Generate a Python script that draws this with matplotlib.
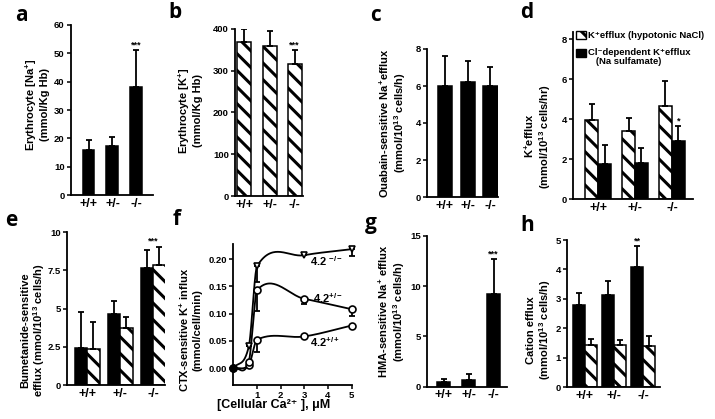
import numpy as np
import matplotlib
matplotlib.use('Agg')
import matplotlib.pyplot as plt
from matplotlib.patches import Rectangle

W, H = 715, 419
plt.rcParams['font.family'] = ['Liberation Sans', 'DejaVu Sans']
plt.rcParams['font.weight'] = 'bold'
plt.rcParams['hatch.linewidth'] = 2.2
plt.rcParams['hatch.color'] = 'black'
plt.rcParams['mathtext.fontset'] = 'custom'
plt.rcParams['mathtext.rm'] = 'Liberation Sans:bold'
plt.rcParams['mathtext.bf'] = 'Liberation Sans:bold'
plt.rcParams['mathtext.it'] = 'Liberation Sans:bold'
plt.rcParams['mathtext.default'] = 'rm'

# ---------------- data ----------------
genotypes = ['+/+', '+/-', '-/-']

# a: erythrocyte Na content
na_content = [16.0, 17.3, 38.0]
na_content_err = [3.3, 3.2, 13.0]
# b: erythrocyte K content
k_content = [370, 360, 316]
k_content_err = [30, 35, 34]
# c: ouabain-sensitive Na efflux
ouabain_na = [6.0, 6.2, 6.0]
ouabain_na_err = [1.6, 1.15, 1.05]
# d: K efflux
k_efflux_hypo = [3.95, 3.4, 4.65]
k_efflux_hypo_err = [0.8, 0.65, 1.25]
cl_dep_k_efflux = [1.75, 1.8, 2.9]
cl_dep_k_efflux_err = [0.95, 0.75, 0.75]
legend_d = ['K⁺efflux (hypotonic NaCl)', 'Cl⁻dependent K⁺efflux\n   (Na sulfamate)']
# e: bumetanide-sensitive efflux
bumet_solid = [2.45, 4.65, 7.65]
bumet_solid_err = [2.35, 0.85, 1.15]
bumet_hatch = [2.35, 3.75, 7.85]
bumet_hatch_err = [1.75, 0.7, 1.2]
# f: CTX-sensitive K influx vs cellular Ca
ca_um = [0, 0.65, 1, 3, 5]
ctx_ko = [0.0, 0.04, 0.187, 0.207, 0.218]
ctx_ko_err = [0, 0, 0.03, 0, 0.012]
ctx_het = [0.0, 0.012, 0.143, 0.127, 0.108]
ctx_het_err = [0, 0, 0.038, 0.01, 0.013]
ctx_wt = [0.0, 0.006, 0.052, 0.058, 0.078]
ctx_wt_err = [0, 0, 0.022, 0, 0]
# g: HMA-sensitive Na efflux
hma_na = [0.45, 0.7, 9.2]
hma_na_err = [0.3, 0.55, 3.5]
# h: cation efflux
cation_solid = [2.8, 3.15, 4.1]
cation_solid_err = [0.4, 0.45, 0.7]
cation_hatch = [1.45, 1.42, 1.4]
cation_hatch_err = [0.2, 0.18, 0.35]

HATCH = '\\\\'
fig = plt.figure(figsize=(W / 100, H / 100), dpi=100)


def fx(px):
    return px / W


def fy(py):
    return 1 - py / H


def make_ax(left, top, right, bottom):
    return fig.add_axes([left / W, 1 - bottom / H, (right - left) / W, (bottom - top) / H])


def style(ax):
    for s in ['top', 'right']:
        ax.spines[s].set_visible(False)
    for s in ['left', 'bottom']:
        ax.spines[s].set_linewidth(1.3)
    ax.tick_params(axis='y', length=3, width=1.1, labelsize=6.8, pad=1.5)
    ax.tick_params(axis='x', length=0, labelsize=9, pad=2)


def bars(ax, x, vals, errs, width, hatched):
    x = np.asarray(x, float)
    if hatched:
        ax.bar(x, vals, width, color='white', edgecolor='black', hatch=HATCH, linewidth=1.1)
    else:
        ax.bar(x, vals, width, color='black', edgecolor='black', linewidth=1.1)
    ax.errorbar(x, vals, yerr=[np.zeros(len(vals)), errs], fmt='none', ecolor='black',
                elinewidth=1.3, capsize=2.3, capthick=1.3)


def stars(ax, x, val, err, s):
    ax.annotate(s, xy=(x, val + err), xytext=(0, 0.5), textcoords='offset points',
                ha='center', va='bottom', fontsize=6.5, fontweight='bold')


def ylab(ax, text, left, right_px, yfrac, width):
    ax.set_ylabel(text, fontsize=8, fontweight='bold', linespacing=1.1)
    ax.yaxis.set_label_coords((right_px - left) / width, yfrac)


def letter(ch, x, y):
    fig.text(x / W, 1 - y / H, ch, fontsize=15, fontweight='bold',
             family=['Open Sans', 'DejaVu Sans'], va='baseline', ha='left')


xg = np.arange(3)

# ---- a ----
ax = make_ax(71, 25, 153, 195)
style(ax)
bars(ax, xg, na_content, na_content_err, 0.5, False)
ax.set_xlim(-0.73, 2.69); ax.set_ylim(0, 60)
ax.set_yticks(np.arange(0, 61, 10))
ax.set_xticks(xg); ax.set_xticklabels(genotypes)
stars(ax, xg[2], na_content[2], na_content_err[2], '***')
ylab(ax, 'Erythrocyte [Na$^{+}$]\n(mmol/Kg Hb)', 71, 50, 0.53, 82)

# ---- b ----
ax = make_ax(235, 29, 303, 196)
style(ax)
bars(ax, xg, k_content, k_content_err, 0.56, True)
ax.set_xlim(-0.38, 2.34); ax.set_ylim(0, 400)
ax.set_yticks(np.arange(0, 401, 100))
ax.set_xticks(xg); ax.set_xticklabels(genotypes)
stars(ax, xg[2], k_content[2], k_content_err[2], '***')
ylab(ax, 'Erythrocyte [K$^{+}$]\n(mmol/Kg Hb)', 235, 203, 0.51, 68)

# ---- c ----
ax = make_ax(427, 49, 498, 197)
style(ax)
bars(ax, xg, ouabain_na, ouabain_na_err, 0.62, False)
ax.set_xlim(-0.79, 2.33); ax.set_ylim(0, 8)
ax.set_yticks(np.arange(0, 9, 2))
ax.set_xticks(xg); ax.set_xticklabels(genotypes)
ylab(ax, 'Ouabain-sensitive Na$^{+}$efflux\n(mmol/10$^{13}$ cells/h)', 427, 408, 0.5, 71)

# ---- d ----
ax = make_ax(573, 31.5, 693, 199)
style(ax)
w = 0.35
bars(ax, xg - w / 2, k_efflux_hypo, k_efflux_hypo_err, w, True)
bars(ax, xg + w / 2, cl_dep_k_efflux, cl_dep_k_efflux_err, w, False)
ax.set_xlim(-0.68, 2.57); ax.set_ylim(0, 8.38)
ax.set_yticks(np.arange(0, 9, 2))
ax.set_xticks(xg); ax.set_xticklabels(genotypes)
stars(ax, xg[2] + w / 2, cl_dep_k_efflux[2], cl_dep_k_efflux_err[2], '*')
ylab(ax, 'K$^{+}$efflux\n(mmol/10$^{13}$ cells/hr)', 573, 553, 0.376, 120)
# legend drawn as key boxes + labels
fig.add_artist(Rectangle((fx(576), fy(39)), 10 / W, 7.5 / H, transform=fig.transFigure,
                         facecolor='white', edgecolor='black', hatch=HATCH, linewidth=1.0))
fig.add_artist(Rectangle((fx(576), fy(57)), 10 / W, 8 / H, transform=fig.transFigure,
                         facecolor='black', edgecolor='black', linewidth=1.0))
fig.text(fx(588), fy(36), legend_d[0], fontsize=6.8, fontweight='bold', va='center', ha='left')
fig.text(fx(588), fy(48), legend_d[1], fontsize=6.8, fontweight='bold', va='top', ha='left',
         linespacing=1.0)

# ---- e ----
ax = make_ax(67, 232, 165, 385)
style(ax)
w = 0.38
bars(ax, xg - w / 2, bumet_solid, bumet_solid_err, w, False)
bars(ax, xg + w / 2, bumet_hatch, bumet_hatch_err, w, True)
ax.set_xlim(-0.61, 2.36); ax.set_ylim(0, 10)
ax.set_yticks([0, 2.5, 5, 7.5, 10]); ax.set_yticklabels(['0', '2.5', '5', '7.5', '10'])
ax.set_xticks(xg); ax.set_xticklabels(genotypes)
stars(ax, xg[2], bumet_hatch[2], bumet_hatch_err[2], '***')
ylab(ax, 'Bumetanide-sensitive\nefflux (mmol/10$^{13}$ cells/h)', 67, 47, 0.36, 98)

# ---- f ----


def smooth(x, y, n=60):
    x = np.asarray(x, float); y = np.asarray(y, float)
    m = np.empty_like(y)
    m[1:-1] = (y[2:] - y[:-2]) / (x[2:] - x[:-2])
    m[0] = (y[1] - y[0]) / (x[1] - x[0])
    m[-1] = (y[-1] - y[-2]) / (x[-1] - x[-2])
    t = np.linspace(0, 1, n)
    h00 = 2 * t**3 - 3 * t**2 + 1; h10 = t**3 - 2 * t**2 + t
    h01 = -2 * t**3 + 3 * t**2; h11 = t**3 - t**2
    xs, ys = [], []
    for i in range(len(x) - 1):
        h = x[i + 1] - x[i]
        xs.append(x[i] + h * t)
        ys.append(h00 * y[i] + h10 * h * m[i] + h01 * y[i + 1] + h11 * h * m[i + 1])
    return np.concatenate(xs), np.concatenate(ys)


ax = make_ax(233, 244, 352, 385)
style(ax)
ax.tick_params(axis='x', length=3, width=1.1, labelsize=6.8, pad=1.5)
for yv, ye, mk in [(ctx_wt, ctx_wt_err, 'o'), (ctx_het, ctx_het_err, 'o'), (ctx_ko, ctx_ko_err, 'v')]:
    sx, sy = smooth(ca_um, yv)
    ax.plot(sx, sy, color='black', lw=1.3, clip_on=False)
    ax.errorbar(ca_um, yv, yerr=[ye, np.zeros(len(ye))], fmt='none', ecolor='black',
                elinewidth=1.3, capsize=2, capthick=1.3, clip_on=False)
    ax.plot(ca_um[1:], yv[1:], mk, ms=5, mfc='white', mec='black', mew=1.2, clip_on=False, zorder=4)
    ax.plot(ca_um[:1], yv[:1], 'o', ms=5, mfc='black', mec='black', clip_on=False, zorder=4)
ax.set_xlim(-0.02, 5.02); ax.set_ylim(-0.031, 0.2275)
ax.set_xticks([1, 2, 3, 4, 5])
ax.set_yticks([0, 0.05, 0.10, 0.15, 0.20])
ax.set_yticklabels(['0.00', '0.05', '0.10', '0.15', '0.20'])
ax.text(3.24, 0.196, '4.2 $^{-/-}$', fontsize=8, fontweight='bold', va='center', ha='left')
ax.text(3.37, 0.128, '4.2$^{+/-}$', fontsize=8, fontweight='bold', va='center', ha='left')
ax.text(3.24, 0.048, '4.2$^{+/+}$', fontsize=8, fontweight='bold', va='center', ha='left')
ylab(ax, 'CTX-sensitive K$^{+}$ influx\n(mmol/cell/min)', 233, 202, 0.39, 119)
ax.set_xlabel('[Cellular Ca²⁺ ], μM', fontsize=9, fontweight='bold')
ax.xaxis.set_label_coords((273.5 - 233) / 119, (385 - 399) / 141)

# ---- g ----
ax = make_ax(427, 235.7, 507, 386.7)
style(ax)
bars(ax, xg, hma_na, hma_na_err, 0.52, False)
ax.set_xlim(-0.66, 2.54); ax.set_ylim(0, 15)
ax.set_yticks([0, 5, 10, 15])
ax.set_xticks(xg); ax.set_xticklabels(genotypes)
stars(ax, xg[2], hma_na[2], hma_na_err[2], '***')
ylab(ax, 'HMA-sensitive Na$^{+}$ efflux\n(mmol/10$^{13}$ cells/h)', 427, 407, 0.5, 80)

# ---- h ----
ax = make_ax(567, 240, 660, 387.3)
style(ax)
w = 0.41
bars(ax, xg - w / 2, cation_solid, cation_solid_err, w, False)
bars(ax, xg + w / 2, cation_hatch, cation_hatch_err, w, True)
ax.set_xlim(-0.62, 2.59); ax.set_ylim(0, 5)
ax.set_yticks(np.arange(0, 6, 1))
ax.set_xticks(xg); ax.set_xticklabels(genotypes)
stars(ax, xg[2] - w / 2, cation_solid[2], cation_solid_err[2], '**')
ylab(ax, 'Cation efflux\n(mmol/10$^{13}$ cells/h)', 567, 553, 0.39, 93)

letter('a', 15, 21)
letter('b', 168, 18)
letter('c', 370, 21)
letter('d', 520, 18)
letter('e', 5, 226)
letter('f', 173, 225)
letter('g', 365, 229)
letter('h', 520, 231)

fig.savefig('out.png', dpi=100)
